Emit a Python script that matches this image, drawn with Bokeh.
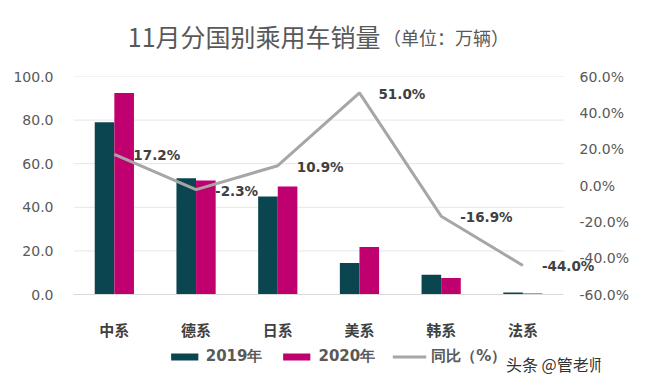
from bokeh.plotting import figure
from bokeh.layouts import column
from bokeh.models import (Range1d, LinearAxis, FixedTicker, PrintfTickFormatter, CustomJSTickFormatter,
                          Legend, LegendItem, Label, ColumnDataSource)
from bokeh.transform import dodge
from bokeh.core.properties import value
from bokeh.embed import file_html
from bokeh.resources import INLINE

# ---- data ----
categories = ["中系", "德系", "日系", "美系", "韩系", "法系"]
sales_2019 = [79.0, 53.3, 45.0, 14.5, 9.1, 0.9]
sales_2020 = [92.4, 52.3, 49.5, 21.8, 7.6, 0.5]
yoy_pct = [17.2, -2.3, 10.9, 51.0, -16.9, -44.0]
left_ticks = [0, 20, 40, 60, 80, 100]
right_ticks = [-60, -40, -20, 0, 20, 40, 60]
title_main = "11月分国别乘用车销量"
title_unit = "（单位：万辆）"
legend_labels = ["2019年", "2020年", "同比（%）"]
watermark = "头条 @管老师"

n = len(categories)
xc = [i + 0.5 for i in range(n)]
src = ColumnDataSource(dict(
    x=xc, s19=sales_2019, s20=sales_2020, yoy=yoy_pct,
    lbl=["%.1f%%" % v for v in yoy_pct],
))

C19 = "#0b4650"
C20 = "#c0006e"
LINE = "#a6a6a6"
TXT = "#595959"
CJK = "Noto Sans CJK SC"
W = 647


def strip(h):
    f = figure(width=W, height=h, x_range=Range1d(0, W), y_range=Range1d(0, h),
               output_backend="svg", toolbar_location=None,
               x_axis_location=None, y_axis_location=None,
               min_border_left=0, min_border_right=0, min_border_top=0, min_border_bottom=0)
    f.outline_line_color = None
    f.background_fill_color = "white"
    f.border_fill_color = "white"
    f.grid.visible = False
    return f


# ---- title strip ----
t = strip(60)
t.add_layout(Label(x=377, y=25, text=title_main, text_align="right", text_baseline="middle",
                   text_font=CJK, text_font_size="25px", text_color=TXT))
t.add_layout(Label(x=380, y=24, text=title_unit, text_align="left", text_baseline="middle",
                   text_font=CJK, text_font_size="18px", text_color=TXT))

# ---- main chart ----
p = figure(width=W, height=282, x_range=Range1d(0, n * 1.075), y_range=Range1d(0, 100),
           output_backend="svg", toolbar_location=None,
           min_border_left=73, min_border_right=47, min_border_top=16, min_border_bottom=46)
p.outline_line_color = None
p.background_fill_color = "white"
p.border_fill_color = "white"

p.extra_y_ranges = {"pct": Range1d(-60, 60)}

# horizontal gridlines spanning the category area only
p.segment(x0=0, x1=n, y0=left_ticks[1:], y1=left_ticks[1:], line_color="#e6e6e6",
          line_width=1, level="underlay")

r19 = p.vbar(x=dodge("x", -0.12), top="s19", width=0.24, source=src,
             fill_color=C19, line_color=None)
r20 = p.vbar(x=dodge("x", 0.12), top="s20", width=0.24, source=src,
             fill_color=C20, line_color=None)
rl = p.line(x="x", y="yoy", source=src, y_range_name="pct", line_color=LINE, line_width=3)

p.text(x="x", y="yoy", text="lbl", source=src, y_range_name="pct",
       x_offset=19, y_offset=1, text_align="left", text_baseline="middle",
       text_font=value("DejaVu Sans"), text_font_style="bold", text_font_size="13.5px",
       text_color="#404040")

p.yaxis.ticker = FixedTicker(ticks=left_ticks)
p.yaxis.formatter = PrintfTickFormatter(format="%.1f")
p.yaxis.axis_line_color = None
p.yaxis.major_tick_line_color = None
p.yaxis.minor_tick_line_color = None
p.yaxis.major_tick_out = 0
p.yaxis.major_label_standoff = 20
p.yaxis.major_label_text_font = "DejaVu Sans"
p.yaxis.major_label_text_font_size = "14px"
p.yaxis.major_label_text_color = TXT

ra = LinearAxis(y_range_name="pct", ticker=FixedTicker(ticks=right_ticks),
                formatter=PrintfTickFormatter(format="%.1f%%"))
ra.axis_line_color = None
ra.major_tick_line_color = None
ra.minor_tick_line_color = None
ra.major_tick_out = 0
ra.major_label_standoff = -21
ra.major_label_text_font = "DejaVu Sans"
ra.major_label_text_font_size = "14px"
ra.major_label_text_color = TXT
p.add_layout(ra, "right")

p.xaxis.ticker = FixedTicker(ticks=xc)
p.xaxis.formatter = CustomJSTickFormatter(args=dict(labels=categories),
                                          code="return labels[Math.floor(tick)] || '';")
p.xaxis.bounds = (0, n)
p.xaxis.axis_line_color = "#d9d9d9"
p.xaxis.major_tick_line_color = None
p.xaxis.minor_tick_line_color = None
p.xaxis.major_tick_out = 0
p.xaxis.major_label_standoff = 24
p.xaxis.major_label_text_font = CJK
p.xaxis.major_label_text_font_style = "bold"
p.xaxis.major_label_text_font_size = "15px"
p.xaxis.major_label_text_color = "#404040"

p.xgrid.grid_line_color = None
p.ygrid.grid_line_color = None

# ---- legend strip ----
q = strip(44)
q.extra_y_ranges = {"hide": Range1d(1000, 1001)}
d19 = q.vbar(x="x", top="s19", width=0.24, source=src, y_range_name="hide",
             fill_color=C19, line_color=None)
d20 = q.vbar(x="x", top="s20", width=0.24, source=src, y_range_name="hide",
             fill_color=C20, line_color=None)
dl = q.line(x="x", y="yoy", source=src, y_range_name="hide", line_color=LINE, line_width=3)

legend = Legend(items=[LegendItem(label=legend_labels[0], renderers=[d19]),
                       LegendItem(label=legend_labels[1], renderers=[d20]),
                       LegendItem(label=legend_labels[2], renderers=[dl])],
                orientation="horizontal", location="top_center",
                glyph_width=34, glyph_height=9, label_height=20, label_standoff=5, spacing=17,
                padding=4, margin=4, border_line_color=None, background_fill_alpha=0,
                label_text_font="DejaVu Sans", label_text_font_style="bold",
                label_text_font_size="15px", label_text_color=TXT)
q.add_layout(legend)

q.add_layout(Label(x=531, y=23, text=watermark, text_align="left", text_baseline="middle",
                   text_font=CJK, text_font_size="16px", text_color="#333333"))

layout = column(t, p, q, spacing=0)
open("out.html", "w").write(file_html(layout, INLINE))
